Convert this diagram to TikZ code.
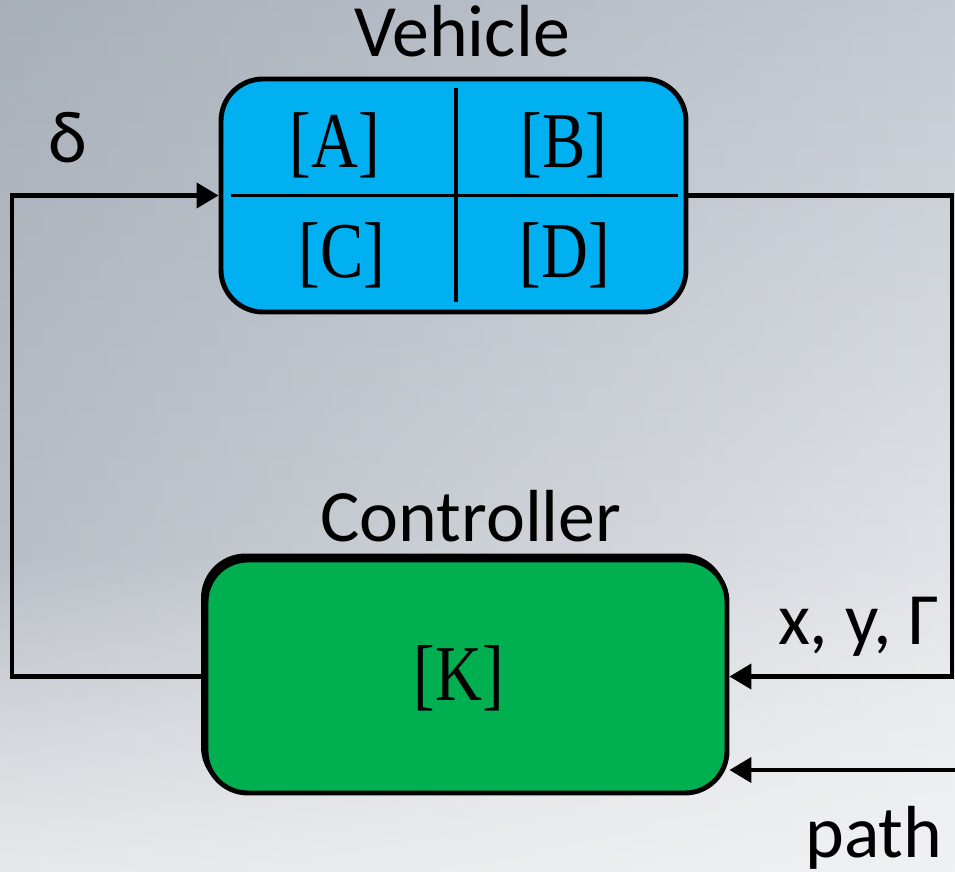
\documentclass[tikz,border=0pt]{standalone}
\usepackage{fontspec}
\setsansfont{Carlito}
\newfontfamily\matfont{Liberation Serif}
\usetikzlibrary{arrows.meta,fadings}

\definecolor{vblue}{HTML}{00B0F0}
\definecolor{cgreen}{HTML}{00B050}
\definecolor{bgtop}{HTML}{C4CAD2}
\definecolor{bgmid}{HTML}{B0B8C2}
\definecolor{bgbot}{HTML}{F0F1F3}
\definecolor{bgdark}{HTML}{7E8894}

\begin{document}
\begin{tikzpicture}[
    block/.style={rectangle, rounded corners=0.42cm, draw=black, line width=1.4pt, minimum width=4.65cm, minimum height=2.33cm, inner sep=0pt},
    vehiclebox/.style={block, fill=vblue},
    ctrlbox/.style={block, fill=cgreen, minimum width=5.21cm, preaction={draw=black, line width=1.4pt, transform canvas={shift={(-0.025,0.04)}}}},
    matrixtxt/.style={font=\matfont\fontsize{22.5}{27}\selectfont, xscale=0.82},
    label/.style={font=\sffamily\fontsize{21}{25}\selectfont, inner sep=0pt},
    arrow/.style={-{Triangle[length=0.22cm, width=0.25cm]}, line width=1.2pt}
]

% Background
\useasboundingbox (0,0) rectangle (9.55,8.72);
\shade[top color=bgtop, middle color=bgmid, bottom color=bgbot] (0,0) rectangle (9.55,8.72);
\fill[bgdark, path fading=east, opacity=0.4] (0,0) rectangle (9.55,8.72);
\fill[bgbot, path fading=north, opacity=0.8] (0,0) rectangle (9.55,3.2);

% Blocks
\node[vehiclebox] at (4.535,6.765) (veh) {};
\node[ctrlbox] at (4.665,1.955) (ctrl) {};

% Vehicle matrices
\draw[line width=0.9pt] ([xshift=0.12cm]veh.west) -- ([xshift=-0.1cm]veh.east);
\draw[line width=0.9pt] (4.56,7.84) -- (4.56,5.70);
\node[matrixtxt] at (3.35,7.27) (mA) {[A]};
\node[matrixtxt] at (5.64,7.27) (mB) {[B]};
\node[matrixtxt] at (3.42,6.17) (mC) {[C]};
\node[matrixtxt] at (5.65,6.17) (mD) {[D]};
\node[matrixtxt] at (4.59,1.94) (mK) {[K]};

% Labels
\node[label, anchor=base] at (4.62,8.15) (vehname) {Vehicle};
\node[label, anchor=base] at (4.71,3.30) (ctrlname) {Controller};
\node[label, anchor=base] at (0.68,7.09) (delta) {δ};
\node[label, anchor=base] at (8.585,2.27) (states) {x, y, Γ};
\node[label, anchor=base] at (8.74,0.14) (pathname) {path};

% Loop corners
\coordinate (lowleft) at (0.12,1.955);
\coordinate (upright) at (9.52,6.765);
\coordinate (pathin) at (9.58,1.02);

% Arrows
\draw[arrow] (ctrl.west) -- (lowleft) |- (veh.west);
\draw[arrow] (veh.east) -- (upright) |- (ctrl.east);
\draw[arrow] (pathin) -- (ctrl.east |- pathin);

\end{tikzpicture}
\end{document}
